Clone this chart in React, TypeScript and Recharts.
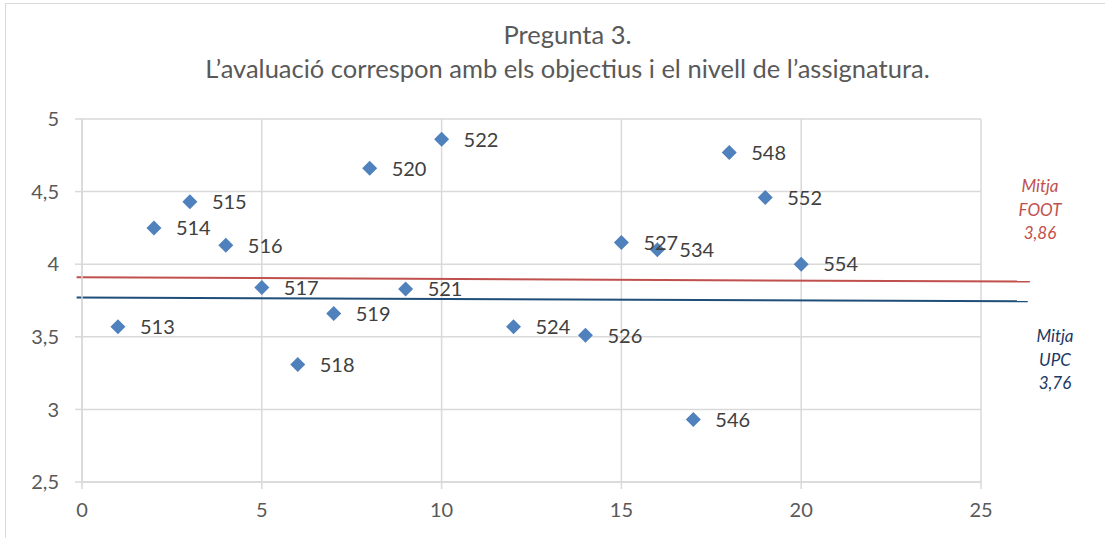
import React from 'react';
import {
  ScatterChart, Scatter, XAxis, YAxis, CartesianGrid, ReferenceLine, LabelList
} from 'recharts';

// codis d'assignatura i valoració mitjana (pregunta 3)
const codes = ['513', '514', '515', '516', '517', '518', '519', '520', '521', '522', '524', '526', '527', '534', '546', '548', '552', '554'];
const xs = [1, 2, 3, 4, 5, 6, 7, 8, 9, 10, 12, 14, 15, 16, 17, 18, 19, 20];
const scores = [3.57, 4.25, 4.43, 4.13, 3.84, 3.31, 3.66, 4.66, 3.83, 4.86, 3.57, 3.51, 4.15, 4.10, 2.93, 4.77, 4.46, 4.0];

const xTicks = [0, 5, 10, 15, 20, 25];
const yTicks = [2.5, 3, 3.5, 4, 4.5, 5];

// línies de mitjana (lleugerament inclinades, com a l'original)
const footLine = [{ x: -0.15, y: 3.91 }, { x: 26.36, y: 3.88 }];
const upcLine = [{ x: -0.15, y: 3.77 }, { x: 26.3, y: 3.745 }];

const FONT = 'Lato, "Open Sans", sans-serif';
const GRID = '#D9D9D9';
const TEXT = '#595959';

const data = codes.map((c, i) => ({ x: xs[i], y: scores[i], code: c }));

const Diamond = (props: any) => {
  const { cx, cy } = props;
  const r = 7.5;
  return <path d={`M${cx},${cy - r}L${cx + r},${cy}L${cx},${cy + r}L${cx - r},${cy}Z`} fill="#4F81BD" />;
};

const PointLabel = (props: any) => {
  const { x, y, width, height, value } = props;
  const cx = x + (width || 0) / 2;
  const cy = y + (height || 0) / 2;
  return (
    <text x={cx + 22} y={cy} dy="0.36em" fontSize={20} fill="#404040" fontFamily={FONT}>
      {value}
    </text>
  );
};

const fmt = (v: number) => String(v).replace('.', ',');

export default function App() {
  return (
    <div style={{ position: 'absolute', left: 0, top: 0, width: 1105, height: 538, background: '#fff', fontFamily: FONT, overflow: 'hidden' }}>
      <div style={{ position: 'absolute', left: 5, top: 3, width: 1200, height: 600, border: '1.5px solid #D9D9D9', boxSizing: 'border-box' }} />
      <div style={{ position: 'absolute', left: 0, width: 1135, top: 17, textAlign: 'center', color: TEXT, fontSize: 25.5, lineHeight: '34px' }}>
        <div>Pregunta 3.</div>
        <div>L’avaluació correspon amb els objectius i el nivell de l’assignatura.</div>
      </div>
      <div style={{ position: 'absolute', left: 990, width: 100, top: 174, textAlign: 'center', color: '#C0504D', fontStyle: 'italic', fontSize: 17, lineHeight: '23.5px' }}>
        <div>Mitja</div>
        <div>FOOT</div>
        <div>3,86</div>
      </div>
      <div style={{ position: 'absolute', left: 1005, width: 100, top: 324, textAlign: 'center', color: '#203864', fontStyle: 'italic', fontSize: 17, lineHeight: '23.5px' }}>
        <div>Mitja</div>
        <div>UPC</div>
        <div>3,76</div>
      </div>
      <div style={{ position: 'absolute', left: 0, top: 0 }}>
        <ScatterChart width={1105} height={538} margin={{ top: 119, right: 124, bottom: 26, left: 22 }}>
          <CartesianGrid stroke={GRID} strokeWidth={1.5} />
          <XAxis
            type="number" dataKey="x" domain={[0, 25]} ticks={xTicks} allowDataOverflow
            stroke={GRID} strokeWidth={1.5} tickSize={7} height={30}
            tick={{ fill: TEXT, fontSize: 20, fontFamily: FONT, dy: 12 }}
          />
          <YAxis
            type="number" dataKey="y" domain={[2.5, 5]} ticks={yTicks} allowDataOverflow
            stroke={GRID} strokeWidth={1.5} tickSize={7} width={60} tickFormatter={fmt}
            tick={{ fill: TEXT, fontSize: 20, fontFamily: FONT, dx: -14 }}
          />
          <ReferenceLine segment={footLine} stroke="#C0504D" strokeWidth={2} ifOverflow="visible" />
          <ReferenceLine segment={upcLine} stroke="#1F4E79" strokeWidth={2} ifOverflow="visible" />
          <Scatter data={data} shape={<Diamond />} isAnimationActive={false}>
            <LabelList dataKey="code" content={<PointLabel />} />
          </Scatter>
        </ScatterChart>
      </div>
    </div>
  );
}
